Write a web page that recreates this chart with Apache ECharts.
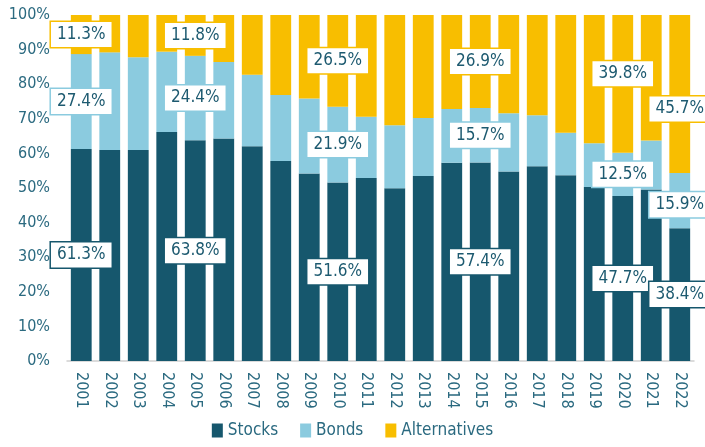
<!DOCTYPE html>
<html>
<head>
<meta charset="utf-8">
<script src="https://cdn.jsdelivr.net/npm/echarts@6/dist/echarts.min.js"></script>
<style>
  html, body { margin: 0; padding: 0; background: #fff; }
  #chart { width: 705px; height: 447px; }
</style>
</head>
<body>
<div id="chart"></div>
<script>
const years = ['2001', '2002', '2003', '2004', '2005', '2006', '2007', '2008', '2009', '2010', '2011',
    '2012', '2013', '2014', '2015', '2016', '2017', '2018', '2019', '2020', '2021', '2022'];
const stocks = [61.3, 61.0, 61.0, 66.2, 63.8, 64.3, 62.1, 57.8, 54.2, 51.6, 52.9,
    49.9, 53.5, 57.3, 57.4, 54.8, 56.3, 53.7, 50.3, 47.7, 49.6, 38.4];
const bonds = [27.4, 28.2, 26.8, 23.2, 24.4, 22.1, 20.6, 19.1, 21.7, 21.9, 17.7,
    18.2, 16.7, 15.5, 15.7, 16.8, 14.7, 12.3, 12.6, 12.5, 14.1, 15.9];
const alternatives = [11.3, 10.8, 12.2, 10.6, 11.8, 13.6, 17.3, 23.1, 24.1, 26.5, 29.4,
    31.9, 29.8, 27.2, 26.9, 28.4, 29.0, 34.0, 37.1, 39.8, 36.3, 45.7];
const labelYears = ['2001', '2005', '2010', '2015', '2020', '2022'];

const font = "'DejaVu Sans Condensed', 'Liberation Sans Narrow', sans-serif";
const textColor = '#2b6a80';
const colors = {Stocks: '#16576d', Bonds: '#8bcbdf', Alternatives: '#f8be00'};

// small nudges so labels sit where the original put them
const labelShift = {
    'Alternatives-2020': [0, -10],
    'Alternatives-2022': [0, 15],
    'Bonds-2022': [0, 4]
};

function buildSeries(name, values) {
    return {
        name: name,
        type: 'bar',
        stack: 'total',
        barWidth: '73%',
        itemStyle: {color: colors[name]},
        label: {
            position: 'inside',
            formatter: p => p.value.toFixed(1) + '%',
            backgroundColor: '#fff',
            borderColor: colors[name],
            borderWidth: 1.5,
            padding: [5, 6, 3, 6],
            color: '#1d5a70',
            fontFamily: font,
            fontSize: 17
        },
        data: values.map((v, i) => ({
            value: v,
            label: {
                show: labelYears.includes(years[i]),
                offset: labelShift[name + '-' + years[i]] || [0, 0]
            }
        }))
    };
}

const chart = echarts.init(document.getElementById('chart'));
chart.setOption({
    animation: false,
    textStyle: {fontFamily: font},
    grid: {left: 67, right: 11, top: 15, bottom: 86},
    legend: {
        bottom: 3,
        left: 'center',
        itemWidth: 11,
        itemHeight: 14,
        itemGap: 22,
        icon: 'rect',
        textStyle: {color: textColor, fontSize: 17, fontFamily: font},
        data: ['Stocks', 'Bonds', 'Alternatives']
    },
    xAxis: {
        type: 'category',
        data: years,
        axisTick: {show: false},
        axisLine: {lineStyle: {color: '#cfcfcf', width: 1.5}},
        axisLabel: {rotate: -90, margin: 11, color: textColor, fontSize: 16, fontFamily: font}
    },
    yAxis: {
        type: 'value',
        min: 0,
        max: 100,
        interval: 10,
        splitLine: {show: false},
        axisLine: {show: false},
        axisTick: {show: false},
        axisLabel: {formatter: '{value}%', margin: 17, color: textColor, fontSize: 16, fontFamily: font}
    },
    series: [
        buildSeries('Stocks', stocks),
        buildSeries('Bonds', bonds),
        buildSeries('Alternatives', alternatives)
    ]
});
</script>
</body>
</html>
